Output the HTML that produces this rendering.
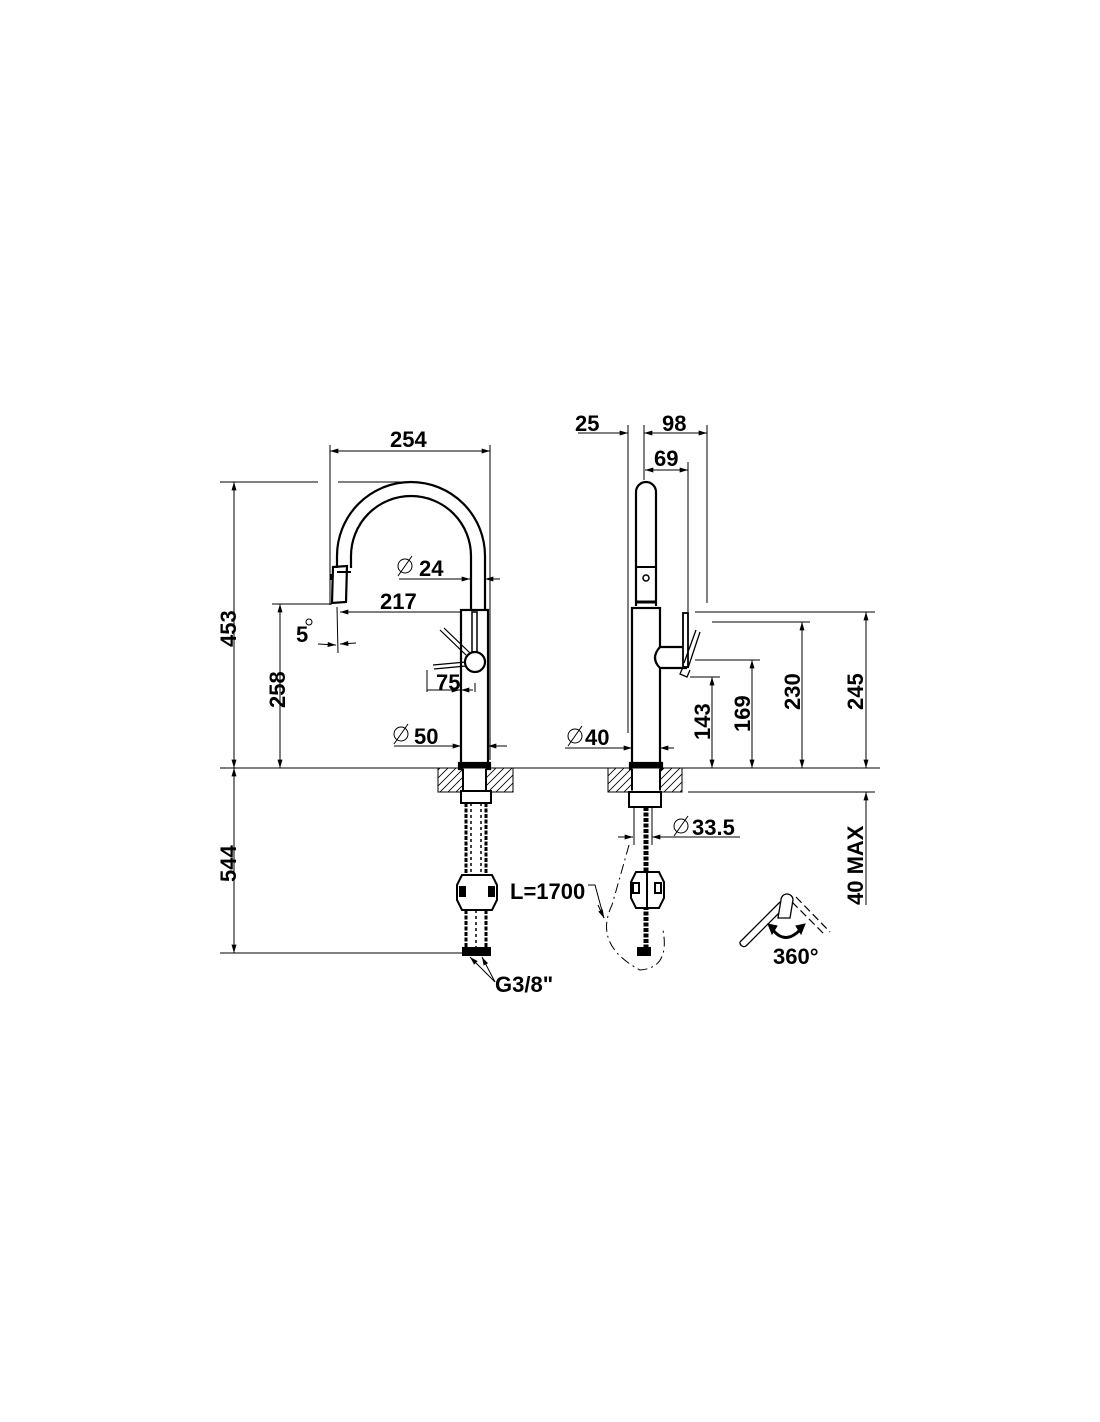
<!DOCTYPE html>
<html><head><style>html,body{margin:0;padding:0;background:#fff;}svg{display:block}
text{font-family:"Liberation Sans",Arial,sans-serif;font-weight:bold;fill:#000;font-size:22px}</style></head>
<body>
<svg width="1100" height="1422" viewBox="0 0 1100 1422" xmlns="http://www.w3.org/2000/svg">
<defs>
<pattern id="h" width="8" height="8" patternUnits="userSpaceOnUse"><path d="M-2 10 L10 -2 M-2 2 L2 -2 M6 10 L10 6" stroke="#000" stroke-width="0.8"/></pattern>
<marker id="a" viewBox="0 0 10 6" refX="10" refY="3" markerWidth="14" markerHeight="5" orient="auto-start-reverse" markerUnits="userSpaceOnUse"><path d="M0 0L10 3L0 6z"/></marker>
</defs>
<g stroke="#000" fill="none" stroke-width="1">
<line x1="220" y1="768" x2="880" y2="768"/>
<line x1="330" y1="445" x2="330" y2="605"/><line x1="490" y1="445" x2="490" y2="760"/>
<line x1="330" y1="451" x2="490" y2="451" marker-start="url(#a)" marker-end="url(#a)"/>
<line x1="220" y1="482" x2="318" y2="482"/><line x1="338" y1="482" x2="410" y2="482"/>
<line x1="234" y1="482" x2="234" y2="768" marker-start="url(#a)" marker-end="url(#a)"/>
<line x1="234" y1="768" x2="234" y2="953" marker-start="url(#a)" marker-end="url(#a)"/>
<line x1="220" y1="953" x2="463" y2="953"/>
<line x1="272" y1="604" x2="332" y2="604"/>
<line x1="280" y1="604" x2="280" y2="768" marker-start="url(#a)" marker-end="url(#a)"/>
<line x1="399" y1="579" x2="455" y2="579"/>
<line x1="455" y1="579" x2="470" y2="579" marker-end="url(#a)"/>
<line x1="500" y1="579" x2="485" y2="579" marker-end="url(#a)"/>
<line x1="340" y1="612" x2="461" y2="612" marker-start="url(#a)"/>
<line x1="337" y1="607" x2="338" y2="653"/>
<line x1="318" y1="644" x2="336" y2="645" marker-end="url(#a)"/><line x1="356" y1="643" x2="340" y2="644" marker-end="url(#a)"/>
<line x1="427" y1="670" x2="427" y2="692"/><line x1="475" y1="683" x2="475" y2="692"/>
<line x1="427" y1="690" x2="460" y2="690" marker-end="url(#a)"/>
<line x1="461" y1="690" x2="473" y2="690" marker-start="url(#a)"/>
<line x1="394" y1="746" x2="440" y2="746"/>
<line x1="440" y1="746" x2="461" y2="746" marker-end="url(#a)"/>
<line x1="507" y1="746" x2="488" y2="746" marker-end="url(#a)"/>
<circle cx="405" cy="566" r="7"/><line x1="398" y1="576" x2="412" y2="556"/>
<circle cx="401" cy="734" r="7"/><line x1="394" y1="744" x2="408" y2="724"/>
<g stroke-width="2.2">
<path d="M337 568 L337 556 A74 74 0 0 1 485 556 L485 610"/>
<path d="M351 568 L351 556 A60 60 0 0 1 471 556 L471 610"/>
<path d="M333 567 L347 566 L346 602 L332 603 Z"/>
<rect x="461" y="610" width="27" height="155"/>
<rect x="472" y="612" width="5" height="40" stroke-width="1.5"/>
<circle cx="475" cy="662" r="10" fill="#fff"/>
<rect x="459" y="763" width="31" height="6" fill="#000"/>
</g>
<line x1="337" y1="572" x2="351" y2="572" stroke-width="2"/>
<line x1="331" y1="574" x2="331" y2="580" stroke-width="2"/>
<path d="M440 630 L466 655 M444 628 L470 653 M433 665 L466 662 M434 669 L466 666" stroke-width="1.2"/>
<rect x="438" y="768" width="75" height="24" fill="url(#h)" stroke="#000"/>
<rect x="463" y="768" width="23" height="24" fill="#fff"/>
<g stroke-width="2">
<line x1="463" y1="769" x2="463" y2="790"/><line x1="486" y1="769" x2="486" y2="790"/>
<rect x="461" y="791" width="30" height="12" fill="#fff"/>
<line x1="466" y1="803" x2="466" y2="875" stroke-width="3" stroke-dasharray="4 1.5"/>
<line x1="486" y1="803" x2="486" y2="875" stroke-width="3" stroke-dasharray="4 1.5"/>
<line x1="471" y1="803" x2="471" y2="875" stroke-width="1.5" stroke-dasharray="3 3"/>
<line x1="481" y1="803" x2="481" y2="875" stroke-width="1.5" stroke-dasharray="3 3"/>
<path d="M462 875 L492 875 L497 885 L497 900 L492 910 L462 910 L457 900 L457 885 Z" fill="#fff"/>
<rect x="460" y="887" width="5" height="9" fill="#000"/><rect x="489" y="887" width="5" height="9" fill="#000"/>
<line x1="466" y1="910" x2="466" y2="948" stroke-width="3" stroke-dasharray="4 1.5"/>
<line x1="486" y1="910" x2="486" y2="948" stroke-width="3" stroke-dasharray="4 1.5"/>
<line x1="476" y1="910" x2="476" y2="948" stroke-width="1.5" stroke-dasharray="3 3"/>
<rect x="463" y="948" width="27" height="7" fill="#000"/>
</g>
<line x1="495" y1="982" x2="470" y2="957" marker-end="url(#a)"/>
<line x1="495" y1="982" x2="482" y2="957" marker-end="url(#a)"/>
<line x1="578" y1="433" x2="628" y2="433"/>
<line x1="610" y1="433" x2="628" y2="433" marker-end="url(#a)"/>
<line x1="644" y1="433" x2="707" y2="433" marker-start="url(#a)" marker-end="url(#a)"/>
<line x1="628" y1="425" x2="628" y2="733"/><line x1="644" y1="425" x2="644" y2="480"/>
<line x1="707" y1="425" x2="707" y2="603"/>
<line x1="645" y1="470" x2="688" y2="470" marker-start="url(#a)" marker-end="url(#a)"/>
<line x1="688" y1="462" x2="688" y2="612"/>
<line x1="695" y1="612" x2="875" y2="612"/>
<line x1="712" y1="622" x2="810" y2="622"/>
<line x1="695" y1="660" x2="760" y2="660"/>
<line x1="690" y1="677" x2="720" y2="677"/>
<line x1="866" y1="612" x2="866" y2="768" marker-start="url(#a)" marker-end="url(#a)"/>
<line x1="802" y1="622" x2="802" y2="768" marker-start="url(#a)" marker-end="url(#a)"/>
<line x1="752" y1="660" x2="752" y2="768" marker-start="url(#a)" marker-end="url(#a)"/>
<line x1="712" y1="677" x2="712" y2="768" marker-start="url(#a)" marker-end="url(#a)"/>
<line x1="688" y1="792" x2="875" y2="792"/>
<line x1="866" y1="905" x2="866" y2="792" marker-end="url(#a)"/>
<line x1="565" y1="748" x2="610" y2="748"/>
<line x1="610" y1="748" x2="632" y2="748" marker-end="url(#a)"/>
<line x1="674" y1="748" x2="660" y2="748" marker-end="url(#a)"/>
<circle cx="575" cy="736" r="7"/><line x1="568" y1="746" x2="582" y2="726"/>
<line x1="618" y1="837" x2="633" y2="837" marker-end="url(#a)"/>
<line x1="740" y1="837" x2="652" y2="837" marker-end="url(#a)"/>
<circle cx="681" cy="826" r="7"/><line x1="674" y1="836" x2="688" y2="816"/>
<line x1="634" y1="808" x2="634" y2="845"/><line x1="652" y1="808" x2="652" y2="845"/>
<g stroke-width="2.2">
<path d="M636 606 L636 492 A10 10 0 0 1 656 492 L656 606"/>
<rect x="632" y="608" width="28" height="157"/>
<path d="M660 647 L686 647 L686 668 L660 668 Q650 658 660 647 Z" fill="#fff"/>
<rect x="683" y="613" width="5" height="54" fill="#fff" stroke-width="1.8"/>
<rect x="630" y="763" width="32" height="6" fill="#000"/>
</g>
<line x1="636" y1="567" x2="656" y2="567" stroke-width="2"/>
<line x1="636" y1="602" x2="656" y2="602" stroke-width="3"/>
<circle cx="646" cy="578" r="3" stroke-width="1.5"/>
<path d="M683 667 L680 674 L687 677 L690 670 M688 668 L700 632 M684 663 L696 630" stroke-width="1.3"/>
<rect x="608" y="768" width="74" height="24" fill="url(#h)" stroke="#000"/>
<rect x="632" y="768" width="28" height="24" fill="#fff"/>
<g stroke-width="2">
<line x1="632" y1="769" x2="632" y2="790"/><line x1="660" y1="769" x2="660" y2="790"/>
<rect x="629" y="792" width="32" height="15" fill="#fff"/>
<line x1="646" y1="807" x2="646" y2="948" stroke-width="5" stroke-dasharray="4 1.5"/>
<path d="M636 872 L659 872 L664 882 L664 898 L659 908 L636 908 L631 898 L631 882 Z" fill="#fff"/>
<rect x="633" y="883" width="6" height="10" fill="#fff"/><rect x="655" y="883" width="6" height="10" fill="#fff"/>
<line x1="647" y1="872" x2="647" y2="908"/>
<rect x="638" y="948" width="12" height="7" fill="#000"/>
</g>
<path d="M629 845 Q622 870 612 905 Q593 945 640 970 Q670 968 663 930" stroke-dasharray="10 4 2 4"/>
<path d="M588 885 L595 885 L604 918" /><line x1="598" y1="905" x2="604" y2="918" marker-end="url(#a)"/>
<path d="M740 942 L780 902 M746 946 L784 908 M740 942 A4 4 0 0 0 746 946" stroke-width="1.3"/>
<path d="M778 918 L781 900 A6 6 0 0 1 793 900 L790 918 Z" stroke-width="1.3" fill="#fff"/>
<path d="M792 902 L826 936 M796 897 L830 932" stroke-width="1.2" stroke-dasharray="8 4"/>
<path d="M773 930 Q785 945 800 930" stroke-width="3"/>
<path d="M768 924 L777 926 L772 934 Z M805 924 L796 926 L801 934 Z" fill="#000"/>
<circle cx="309" cy="622" r="3" stroke-width="1"/>
</g>
<text x="390" y="447">254</text>
<text x="380" y="609">217</text>
<text x="419" y="576">24</text>
<text x="414" y="744">50</text>
<text x="436" y="690">75</text>
<text x="296" y="642">5</text>
<text transform="translate(236 647) rotate(-90)">453</text>
<text transform="translate(285 708) rotate(-90)">258</text>
<text transform="translate(236 882) rotate(-90)">544</text>
<text x="495" y="992">G3/8"</text>
<text x="575" y="431">25</text>
<text x="662" y="431">98</text>
<text x="654" y="466">69</text>
<text x="585" y="745">40</text>
<text x="692" y="835">33.5</text>
<text x="510" y="899">L=1700</text>
<text x="773" y="964" font-size="18">360°</text>
<text transform="translate(710 740) rotate(-90)">143</text>
<text transform="translate(750 732) rotate(-90)">169</text>
<text transform="translate(800 710) rotate(-90)">230</text>
<text transform="translate(863 710) rotate(-90)">245</text>
<text transform="translate(863 905) rotate(-90)">40 MAX</text>
</svg>
</body></html>
